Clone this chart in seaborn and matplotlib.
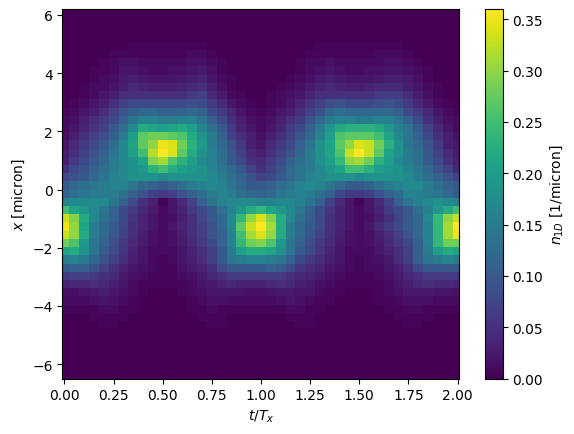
import numpy as np
import pandas as pd
import seaborn as sns
import matplotlib
matplotlib.use('Agg')
import matplotlib.pyplot as plt

# density, in 0.01 /micron, top row first, one column every 0.05 T_x
n1d = [
[0,0,0,0,0, 0,0,0,0,0, 0,0,0,0,0, 0,0,0,0,0, 0,0,0,0,0, 0,0,0,0,0, 0,0,0,0,0, 0,0,0,0,0, 0],
[0,0,0,0,0, 0,0,0,0,0, 0,0,0,0,0, 0,0,0,0,0, 0,0,0,0,0, 0,0,0,0,0, 0,0,0,0,0, 0,0,0,0,0, 0],
[0,0,0,0,0, 0,0,0,0,0, 0,0,0,0,0, 0,0,0,0,0, 0,0,0,0,0, 0,0,0,0,0, 0,0,0,0,0, 0,0,0,0,0, 0],
[0,0,0,0,0, 0,0,0,0,0, 0,0,0,0,0, 0,0,0,0,0, 0,0,0,0,0, 0,0,0,0,0, 0,0,0,0,0, 0,0,0,0,0, 0],
[0,0,0,0,0, 0,0,.3,.3,.3, .3,.3,.3,.3,.3, 0,0,0,0,0, 0,0,0,0,0, 0,.3,.3,.3,.3, .3,.3,.3,.3,.3, 0,0,0,0,0, 0],
[0,0,0,0,0, .5,.5,.5,.5,.5, .5,.5,.5,1,1, .5,0,0,0,0, 0,0,0,0,0, .5,.5,.5,.5,.5, .5,.5,1,1,1, .5,0,0,0,0, 0],
[0,0,0,0,.5, 1,1.5,1.5,1,1, 1,1,1,1.5,1.5, 1,.5,0,0,0, 0,0,0,0,.5, 1,1,1.5,1,1, 1,1,1,1.5,1.5, 1,.5,0,0,0, 0],
[0,0,0,.5,.5, 1,2,2,1.5,1, 1,1.5,1.5,2,2.5, 1.5,.5,0,0,0, 0,0,0,0,.5, 1,1.5,2,1.5,1, 1,1.5,1.5,2,2, 1.5,1,.5,0,0, 0],
[0,0,0,.5,1, 1.5,2.5,3,2.5,2, 2,2,2.5,3,3.5, 2,1,.5,0,0, 0,0,0,.5,1, 1.5,2.5,3,2.5,2, 2,2,2.5,3,3, 2.5,1.5,.5,0,0, 0],
[0,0,.5,1,1, 2,3,4,3.5,3, 3,3,3.5,4,4.5, 3,1.5,.5,0,0, 0,0,.5,1,1.5, 2.5,3.5,4,3.5,3, 3,3.5,4,4,4, 3,2,1,.5,0, 0],
[0,0,.5,1,2, 3,4.5,5,5,5, 4.5,4.5,5,6,6.5, 4,2.5,1,.5,0, 0,.5,1,1.5,2, 3.5,5,5,5,5, 5,5,6,6,6, 4.5,3,1.5,.5,0, 0],
[0,.5,1,2,3, 5,7,8,8,8, 8,8,8,8.5,8, 6,4,2,1,.5, 0,.5,1,2,3.5, 5.5,7,8.5,9,8, 8,8,8.5,9,8, 6,4,2.5,1,.5, 0],
[.5,1,2,3,4.5, 7,9,11,12,12, 11,11,11.5,12,11, 8,6,4,2,1, .5,1,2,3,5, 7,9,12,13,12, 12,12,12,12,11, 8,6,4,2,1, .5],
[1,1.5,3,4.5,6, 8,11,14,16,16, 15,15,16,16,14, 11,8,5,3,1.5, 1,1.5,3,5,6, 9,12,15,16,16, 15,15,16,16,14, 11,8,5,3,1.5, 1],
[1,2,3.5,5.5,7, 10,13,17,22,21, 20,21,22,20,16, 13,10,6,3.5,2, 1,2,3.5,6,8, 11,15,19,22,23, 23,23,22,19,16, 14,10,7,4,2, 1],
[1.5,3,5,7,8.5, 11,15,20,27,28, 28,27,26,22,18, 15,11,7,5,3, 1.5,3,5,7,9, 12,16,20,26,27, 27,27,25,21,17, 14,11,8,5,3, 1.5],
[2,4,6,8,10, 13,17,21,27,30, 35,34,28,23,19, 15,12,9,6,3, 2,4,6,8,11, 14,18,21,27,30, 34,33,28,23,18, 14,12,9,6,3, 2],
[2.5,5,7,9,11, 14,17,20,25,32, 36,34,27,22,18, 16,13,10,7,4, 3,5,7,9,12, 15,18,21,26,33, 36,33,27,21,18, 15,13,10,7,4, 2.5],
[3,6,8,10,12, 15,17,18,21,29, 31,26,23,20,17, 16,13,10,8,5, 4,6,8,11,13, 15,18,20,24,30, 31,28,23,20,17, 15,13,10,8,5, 3],
[5,8,9,11,13, 15,17,18,19,23, 25,22,20,19,18, 16,14,12,10,7, 5,7,9,12,14, 15,17,19,21,25, 25,23,20,19,18, 16,14,12,9,7, 4],
[8,9,10,12,14, 16,17,18,18,18, 17,18,18,18,18, 17,15,13,11,9, 7,8,10,12,14, 16,17,18,18,18, 17,18,18,18,18, 17,15,13,11,9, 7],
[10,12,13,14,15, 16,16,14,12,11, 10,11,13,15,16, 17,16,14,12,10, 10,11,13,14,16, 17,16,14,12,10, 10,11,13,15,16, 17,17,15,13,11, 10],
[11,13,14,15,15, 15,13,11,9,7, 6,7,9,11,13, 15,16,15,13,12, 11,12,14,15,16, 15,13,11,8,6, 6,7,9,11,13, 16,16,15,14,12, 10],
[16,17,17,17,17, 14,11,8,5,3, .5,2,4,7,11, 14,16,17,17,17, 16,16,17,17,16, 14,11,7,4,2, .5,2,4,7,11, 14,16,17,18,17, 16],
[25,21,19,17,14, 11,8,6,4,2.5, 1,2,3.5,6,8, 10,13,16,19,22, 24,21,19,17,14, 11,8,5.5,3.5,2, 1,2,3.5,6,8, 10,13,16,19,22, 25],
[33,29,22,17,13, 11,8,5.5,3.5,2, 1,1.5,3,5,7.5, 10,12,17,24,30, 34,29,22,17,13, 10.5,8,5,3.5,2, 1,1.5,3,5,7.5, 10,12,17,24,30, 33],
[35,30,21,15,12, 10,7.5,5,3.5,2, 1,2,3.5,5,7, 9,12,17,27,33, 36,31,22,15,12, 10,8,5,3.5,2, 1,2,4,6,8, 10,12,16,24,31, 36],
[33,30,22,15,12, 9.5,7,4.5,3,1.5, 1,1.5,3,4.5,6.5, 9,11,16,25,31, 34,30,22,15,12, 9.5,7,4.5,3,1.5, 1,1.5,3,4.5,6.5, 9,12,16,24,31, 35],
[28,26,19,14,11, 8.5,6,4,2.5,1.5, 1,1.5,2.5,4,6, 8,11,16,24,28, 29,26,19,14,11, 8.5,6,4,2.5,1.5, 1,1.5,2.5,4,6, 8,11,16,24,28, 28],
[21,22,18,14,10, 8,5.5,3.5,2,1, 1,1,2,3.5,5, 7,10,15,20,22, 22,21,18,14,10, 8,5.5,3.5,2,1, 1,1,2,3.5,5, 7,11,15,20,22, 21],
[15,16,15,12,9, 7,5,3,2,1, .5,1,2,3,4.5, 7,10,14,15,16, 16,15,14,11,8, 6,4.5,3,2,1, .5,1,1.5,2.5,4.5, 7,11,14,15,16, 15],
[10,11,11,9,7, 5,3.5,2,1.5,1, .5,.5,1.5,2.5,3.5, 5,8,10,10,10, 10,11,10,8,5.5, 4.5,3.5,2,1.5,1, .5,1,1,2,3, 5,8,10,10,10, 10],
[6,7,7,6,5, 4,2.5,1.5,1,.5, .5,.5,1,1.5,2.5, 4,5,6,6,6, 6,6,6,5,4, 3.5,2.5,1.5,1,.5, .5,.5,1,1.5,2.5, 4,5,6,6,6, 6],
[3.5,4,4,4.5,4, 3,2,1,.5,.5, .5,.5,.5,1,2, 2.5,3.5,4,3.5,3.5, 3.5,4,4.5,4,3, 2.5,1.5,1,.5,.5, .5,.5,.5,1,2, 3,4,4.5,4,4, 3.5],
[1.5,1.5,2,2.5,3, 2,1.5,1,.5,0, 0,0,.5,1,1.5, 2,2,2,2,1.5, 1.5,2,2.5,2.5,2, 2,1,.5,.5,0, 0,0,.5,1,1.5, 2.5,2.5,2.5,2,2, 1.5],
[1,1,1,1.5,2, 1.5,1,.5,0,0, 0,0,0,.5,1, 1.5,1.5,1,1,1, 1,1,1.5,2,1.5, 1,.5,.5,0,0, 0,0,.5,.5,1, 1.5,1.5,1.5,1,1, 1],
[.5,.5,.5,.5,1, 1,.5,.5,0,0, 0,0,0,.5,.5, 1,.5,.5,.5,.5, .5,.5,.5,1,1, .5,.5,0,0,0, 0,0,0,.5,.5, 1,1,.5,.5,.5, .5],
[0,0,0,.5,.5, .5,.5,0,0,0, 0,0,0,0,.5, .5,.5,0,0,0, 0,0,0,.5,.5, .5,0,0,0,0, 0,0,0,0,.5, .5,.5,.5,0,0, 0],
[0,0,0,0,.3, .3,0,0,0,0, 0,0,0,0,0, .3,.3,0,0,0, 0,0,0,0,.3, .3,0,0,0,0, 0,0,0,0,0, .3,.3,0,0,0, 0],
[0,0,0,0,0, 0,0,0,0,0, 0,0,0,0,0, 0,0,0,0,0, 0,0,0,0,0, 0,0,0,0,0, 0,0,0,0,0, 0,0,0,0,0, 0],
[0,0,0,0,0, 0,0,0,0,0, 0,0,0,0,0, 0,0,0,0,0, 0,0,0,0,0, 0,0,0,0,0, 0,0,0,0,0, 0,0,0,0,0, 0],
[0,0,0,0,0, 0,0,0,0,0, 0,0,0,0,0, 0,0,0,0,0, 0,0,0,0,0, 0,0,0,0,0, 0,0,0,0,0, 0,0,0,0,0, 0],
[0,0,0,0,0, 0,0,0,0,0, 0,0,0,0,0, 0,0,0,0,0, 0,0,0,0,0, 0,0,0,0,0, 0,0,0,0,0, 0,0,0,0,0, 0],
[0,0,0,0,0, 0,0,0,0,0, 0,0,0,0,0, 0,0,0,0,0, 0,0,0,0,0, 0,0,0,0,0, 0,0,0,0,0, 0,0,0,0,0, 0],
[0,0,0,0,0, 0,0,0,0,0, 0,0,0,0,0, 0,0,0,0,0, 0,0,0,0,0, 0,0,0,0,0, 0,0,0,0,0, 0,0,0,0,0, 0],
]
xticks = [0.0, 0.25, 0.5, 0.75, 1.0, 1.25, 1.5, 1.75, 2.0]
yticks = [6, 4, 2, 0, -2, -4, -6]
cticks = [0.0, 0.05, 0.1, 0.15, 0.2, 0.25, 0.3, 0.35]

t_step = 0.05
y_top = 6.2
y_bottom = -6.49

W, H = 574, 435
fig = plt.figure(figsize=(W / 100, H / 100), dpi=100)
ax = fig.add_axes([62.5 / W, 1 - 379.5 / H, 397 / W, 369.5 / H])
cax = fig.add_axes([484.5 / W, 1 - 379.5 / H, 18 / W, 369.5 / H])

df = pd.DataFrame(np.array(n1d) / 100)
sns.heatmap(df, ax=ax, cbar_ax=cax, cmap='viridis', vmin=0, vmax=0.36,
            xticklabels=False, yticklabels=False, cbar_kws={'ticks': cticks})

# heatmap works in cell numbers, so map the real units onto them
nrows, ncols = df.shape
ax.set_xlim(0.5 - 0.01 / t_step, ncols - 0.5 + 0.01 / t_step)
ax.set_ylim(nrows, 0)
ax.set_xticks([0.5 + v / t_step for v in xticks])
ax.set_xticklabels(['%.2f' % v for v in xticks], rotation=0)
ax.set_yticks([(y_top - v) / (y_top - y_bottom) * nrows for v in yticks])
ax.set_yticklabels(['\u2212%d' % -v if v < 0 else '%d' % v for v in yticks], rotation=0)
ax.tick_params(length=3.5, width=0.8, labelsize=10)
ax.set_xlabel(r'$t/T_x$', fontsize=10)
ax.set_ylabel(r'$x$ [micron]', fontsize=10)
for s in ax.spines.values():
    s.set_visible(True)
    s.set_linewidth(0.8)
    s.set_color('black')

cbar = ax.collections[0].colorbar
cbar.outline.set_visible(True)
cbar.outline.set_linewidth(0.8)
cbar.outline.set_edgecolor('black')
cbar.set_ticklabels(['%.2f' % v for v in cticks])
cbar.ax.tick_params(length=3.5, width=0.8, labelsize=10)
cbar.set_label(r'$n_{1D}$ [1/micron]', fontsize=10)

fig.savefig('out.png', dpi=100)
